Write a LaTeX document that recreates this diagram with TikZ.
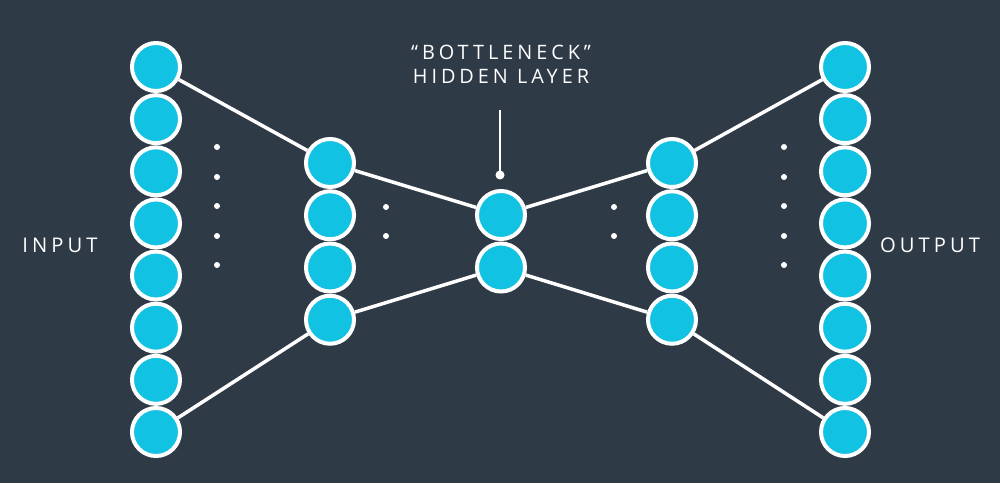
\documentclass[tikz,border=0pt]{standalone}
\usepackage{fontspec}
\usepackage{tikz}
\usetikzlibrary{arrows}
\newfontfamily\capsfont[LetterSpace=20]{Open Sans}
\definecolor{back_slate}{RGB}{47,58,71}
\definecolor{node_cyan}{RGB}{18,194,226}
\definecolor{edge_white}{RGB}{255,255,255}

\begin{document}
\begin{tikzpicture}[line width=0.07cm]
    \tikzstyle{label}=[text=white,font=\capsfont,align=center]
    \tikzstyle{unit}=[draw=edge_white, circle, line width=0.08cm, minimum size=0.96cm, inner sep=0pt, fill=node_cyan]
    \tikzstyle{gap}=[fill=white]

    \fill[back_slate] (0,0) rectangle (20,9.66);
    \useasboundingbox (0,0) rectangle (20,9.66);

    % input layer
    \node[unit] (I1) at (3.12,8.32 ) {};
    \node[unit] (I2) at (3.12,7.277) {};
    \node[unit] (I3) at (3.12,6.234) {};
    \node[unit] (I4) at (3.12,5.191) {};
    \node[unit] (I5) at (3.12,4.149) {};
    \node[unit] (I6) at (3.12,3.106) {};
    \node[unit] (I7) at (3.12,2.063) {};
    \node[unit] (I8) at (3.12,1.02 ) {};

    % encoder
    \node[unit] (E1) at (6.6,6.40 ) {};
    \node[unit] (E2) at (6.6,5.355) {};
    \node[unit] (E3) at (6.6,4.31 ) {};
    \node[unit] (E4) at (6.6,3.265) {};

    % bottleneck
    \node[unit] (B1) at (10.02,5.36) {};
    \node[unit] (B2) at (10.02,4.31) {};

    % decoder
    \node[unit] (D1) at (13.44,6.40 ) {};
    \node[unit] (D2) at (13.44,5.355) {};
    \node[unit] (D3) at (13.44,4.31 ) {};
    \node[unit] (D4) at (13.44,3.265) {};

    % output layer
    \node[unit] (O1) at (16.9,8.32 ) {};
    \node[unit] (O2) at (16.9,7.277) {};
    \node[unit] (O3) at (16.9,6.234) {};
    \node[unit] (O4) at (16.9,5.191) {};
    \node[unit] (O5) at (16.9,4.149) {};
    \node[unit] (O6) at (16.9,3.106) {};
    \node[unit] (O7) at (16.9,2.063) {};
    \node[unit] (O8) at (16.9,1.02 ) {};

    \path[draw=edge_white]
     (I1) edge (E1)
     (I8) edge (E4)
     (E1) edge (B1)
     (E4) edge (B2)
     (B1) edge (D1)
     (B2) edge (D4)
     (D1) edge (O1)
     (D4) edge (O8);

    % dots
    \fill[gap] (4.34,6.72) circle (0.06) (4.34,6.12) circle (0.06) (4.34,5.54) circle (0.06)
               (4.34,4.94) circle (0.06) (4.34,4.36) circle (0.06);
    \fill[gap] (7.72,5.52) circle (0.06) (7.72,4.94) circle (0.06);
    \fill[gap] (12.28,5.52) circle (0.06) (12.28,4.94) circle (0.06);
    \fill[gap] (15.68,6.72) circle (0.06) (15.68,6.12) circle (0.06) (15.68,5.54) circle (0.06)
               (15.68,4.94) circle (0.06) (15.68,4.36) circle (0.06);

    \node[label,font=\capsfont\fontsize{11.3}{13.8}\selectfont] (N) at (10.02,8.38) {“BOTTLENECK”\\HIDDEN LAYER};
    \node[label,font=\capsfont\fontsize{11.5}{14}\selectfont] (In)  at (1.2,4.76)  {INPUT};
    \node[label,font=\capsfont\fontsize{11.5}{14}\selectfont] (Out) at (18.6,4.76) {OUTPUT};

    \coordinate (P) at (10.0,6.16);
    \draw[edge_white,line width=0.04cm] (P) -- (10.0,7.46);
    \fill[gap] (P) circle (0.09);
\end{tikzpicture}
\end{document}
